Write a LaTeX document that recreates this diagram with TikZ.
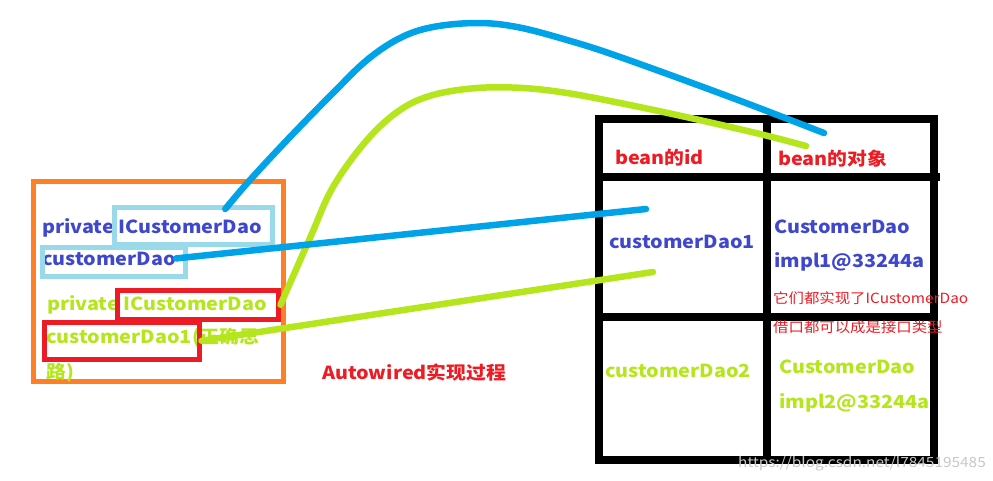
\documentclass[tikz,border=0pt]{standalone}
\usepackage{fontspec}
\usepackage{xcolor}
\usepackage{tikz}
\usetikzlibrary{calc}
\newfontfamily\cnfont{Noto Sans CJK SC}[FakeStretch=1.1]
\definecolor{cdblue}{HTML}{3F48CC}
\definecolor{cdsky}{HTML}{99D9EA}
\definecolor{cdcyan}{HTML}{00A2E8}
\definecolor{cdlime}{HTML}{B5E61D}
\definecolor{cdred}{HTML}{ED1C24}
\definecolor{cdorange}{HTML}{FF7F27}
\tikzset{
  cdlab/.style={anchor=base west, inner sep=0pt,
                font=\cnfont\bfseries\fontsize{18}{20}\selectfont},
  cdnote/.style={anchor=base west, inner sep=0pt, text=cdred,
                 font=\cnfont\fontsize{14}{16}\selectfont},
  cdbox/.style={draw, line width=4.5pt, anchor=north west, inner sep=0pt},
  cdwire/.style={line width=6.5pt, line cap=round},
  cdgrid/.style={line width=8pt}
}

\begin{document}
\begin{tikzpicture}[x=1pt, y=-1pt]
  \useasboundingbox (0,0) rectangle (993,480);
  % left part: the field declarations
  \draw[cdorange, line width=5pt] (33,181) rectangle (283,381);
  \node[cdlab, text=cdblue] (privA) at (42,233) {private ICustomerDao};
  \node[cdlab, text=cdblue] (cdname) at (42,265) {customerDao};
  \node[cdlab, text=cdlime] (privB) at (47,310) {private ICustomerDao};
  \node[cdlab, text=cdlime] (cdname1) at (46,343) {customerDao1(正确思};
  \node[cdlab, text=cdlime] (cdwrap) at (46,378) {路)};
  \node[cdbox, draw=cdsky, minimum width=158, minimum height=37] (ifblue) at (112,205) {};
  \node[cdbox, draw=cdsky, minimum width=143, minimum height=29] (nmblue) at (40,245) {};
  \node[cdbox, draw=cdred, minimum width=161, minimum height=29] (ifgreen) at (115,288) {};
  \node[cdbox, draw=cdred, minimum width=155, minimum height=37] (nmgreen) at (42,320) {};
  \node[cdlab, text=cdred] (title) at (322,379) {Autowired实现过程};

  % right part: the bean table
  \draw[cdgrid] (599,119) rectangle (934,460);
  \draw[cdgrid] (599,177) -- (940,177);
  \draw[cdgrid] (599,317) -- (934,317);
  \draw[cdgrid] (767,119) -- (767,460);
  \node[cdlab, text=cdred] (hid) at (615,164) {bean的id};
  \node[cdlab, text=cdred] (hobj) at (778,165) {bean的对象};
  \node[cdlab, text=cdblue] (id1) at (609,248) {customerDao1};
  \node[cdlab, text=cdblue] (obj1a) at (774,233) {CustomerDao};
  \node[cdlab, text=cdblue] (obj1b) at (774,267) {impl1@33244a};
  \node[cdnote] (noteA) at (773,303) {它们都实现了ICustomerDao};
  \node[cdnote] (noteB) at (773,332) {借口都可以成是接口类型};
  \node[cdlab, text=cdlime] (id2) at (605,377) {customerDao2};
  \node[cdlab, text=cdlime] (obj2a) at (779,373) {CustomerDao};
  \node[cdlab, text=cdlime] (obj2b) at (779,408) {impl2@33244a};
  \node[anchor=base west, inner sep=0pt, text=black!22,
        font=\cnfont\fontsize{14}{16}\selectfont] (mark) at (738,467)
        {https://blog.csdn.net/l7845195485};

  % where the wires land
  \coordinate (objhit1) at (824,133);
  \coordinate (objhit2) at (806,146);
  \coordinate (idhit1) at (646,209);
  \coordinate (idhit2) at (653,272);
  \coordinate (bstart) at ($(ifblue.north)+(32,4)$);

  \draw[cdwire, cdcyan] plot[smooth, tension=0.6] coordinates
    {(bstart) (250,180) (290,137) (333,93) (367,60) (400,38) (433,27) (477,23)
     (517,27) (567,40) (620,57) (730,97) (objhit1)};
  \draw[cdwire, cdlime] plot[smooth, tension=0.6] coordinates
    {(ifgreen.east) (310,238) (333,187) (367,140) (400,110) (433,95) (477,88)
     (523,88) (567,93) (620,103) (686,117) (760,134) (objhit2)};
  \draw[cdwire, cdcyan] (cdname.east) -- (idhit1);
  \draw[cdwire, cdlime] (nmgreen.east) -- (idhit2);
\end{tikzpicture}
\end{document}
